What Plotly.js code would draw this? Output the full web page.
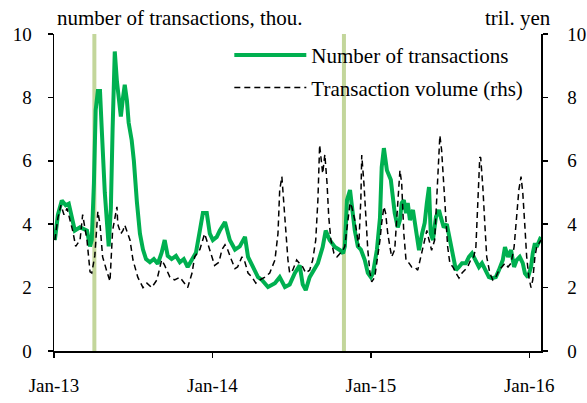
<!DOCTYPE html>
<html><head><meta charset="utf-8">
<script src="https://cdn.plot.ly/plotly-3.0.1.min.js"></script>
<style>html,body{margin:0;padding:0;background:#fff}#chart{width:587px;height:403px}</style>
</head><body><div id="chart"></div>
<script>
var countDates = ["2013-01-03","2013-01-10","2013-01-19","2013-01-28","2013-02-04","2013-02-11","2013-02-18","2013-03-02","2013-03-18","2013-03-25","2013-03-29","2013-04-03","2013-04-07","2013-04-12","2013-04-17","2013-04-21","2013-04-28","2013-05-07","2013-05-12","2013-05-16","2013-05-21","2013-05-26","2013-05-30","2013-06-04","2013-06-09","2013-06-13","2013-06-18","2013-06-22","2013-06-29","2013-07-04","2013-07-11","2013-07-18","2013-07-25","2013-08-01","2013-08-10","2013-08-19","2013-08-28","2013-09-06","2013-09-13","2013-09-20","2013-09-29","2013-10-09","2013-10-18","2013-10-27","2013-11-05","2013-11-15","2013-11-24","2013-12-03","2013-12-10","2013-12-19","2013-12-26","2014-01-02","2014-01-11","2014-01-18","2014-01-30","2014-02-10","2014-02-22","2014-03-05","2014-03-17","2014-03-24","2014-04-04","2014-04-16","2014-04-25","2014-05-09","2014-05-25","2014-06-05","2014-06-17","2014-06-28","2014-07-10","2014-07-21","2014-07-28","2014-08-04","2014-08-13","2014-08-20","2014-09-01","2014-09-12","2014-09-19","2014-09-28","2014-10-10","2014-10-22","2014-10-29","2014-11-02","2014-11-07","2014-11-14","2014-11-18","2014-11-25","2014-12-02","2014-12-09","2014-12-18","2014-12-25","2015-01-01","2015-01-06","2015-01-15","2015-01-22","2015-01-26","2015-01-31","2015-02-07","2015-02-16","2015-02-25","2015-03-04","2015-03-09","2015-03-13","2015-03-18","2015-03-23","2015-03-27","2015-04-01","2015-04-08","2015-04-15","2015-04-22","2015-04-29","2015-05-05","2015-05-10","2015-05-15","2015-05-19","2015-05-24","2015-05-31","2015-06-07","2015-06-11","2015-06-18","2015-06-25","2015-07-02","2015-07-09","2015-07-16","2015-07-23","2015-07-30","2015-08-08","2015-08-15","2015-08-22","2015-08-31","2015-09-07","2015-09-14","2015-09-23","2015-09-30","2015-10-07","2015-10-16","2015-10-23","2015-11-01","2015-11-06","2015-11-13","2015-11-20","2015-11-27","2015-12-03","2015-12-10","2015-12-17","2015-12-22","2015-12-29","2016-01-05","2016-01-09","2016-01-14","2016-01-18","2016-01-25","2016-01-28"];
var countValues = [3.5,4.3,4.75,4.6,4.65,4.2,3.8,3.9,3.8,3.3,3.5,5.3,7.6,8.2,8.2,7.0,5.0,3.3,4.5,7.0,9.45,8.5,8.0,7.4,8.0,8.4,7.9,7.2,6.65,6.0,4.7,3.7,3.2,2.9,2.8,2.9,2.75,3.1,3.5,3.0,2.9,3.0,2.8,2.9,2.65,2.9,3.1,3.8,4.35,4.35,3.7,3.5,3.6,3.8,4.07,3.5,3.2,3.3,3.6,2.97,2.65,2.33,2.24,2.02,2.14,2.33,2.02,2.1,2.46,2.7,2.1,1.92,2.33,2.5,2.77,3.28,3.8,3.5,3.28,3.18,3.08,3.3,4.76,5.08,4.55,3.8,3.3,3.2,2.87,2.46,2.33,2.46,3.2,4.2,5.8,6.4,5.7,5.4,4.35,3.9,4.13,4.67,4.76,4.35,4.67,4.13,4.45,3.7,3.18,3.7,4.04,4.67,5.17,3.7,3.5,4.23,4.45,4.23,3.9,4.0,3.5,3.08,2.55,2.65,2.77,2.77,2.97,3.08,2.87,2.65,2.77,2.55,2.33,2.3,2.33,2.55,2.87,3.28,2.97,3.18,2.65,2.87,2.97,2.77,2.45,2.33,2.65,3.08,3.4,3.28,3.5,3.6];

var volumeDates = ["2013-01-03","2013-01-10","2013-01-17","2013-01-24","2013-01-31","2013-02-06","2013-02-13","2013-02-20","2013-02-25","2013-03-02","2013-03-08","2013-03-18","2013-03-25","2013-03-29","2013-04-05","2013-04-12","2013-04-17","2013-04-23","2013-05-03","2013-05-10","2013-05-16","2013-05-26","2013-05-28","2013-06-04","2013-06-09","2013-06-13","2013-06-20","2013-06-25","2013-07-02","2013-07-13","2013-07-25","2013-08-03","2013-08-14","2013-08-26","2013-09-06","2013-09-13","2013-09-25","2013-10-06","2013-10-18","2013-10-29","2013-11-05","2013-11-15","2013-11-21","2013-12-03","2013-12-14","2013-12-21","2013-12-31","2014-01-06","2014-01-16","2014-01-23","2014-01-30","2014-02-05","2014-02-14","2014-02-22","2014-02-28","2014-03-10","2014-03-17","2014-03-24","2014-04-02","2014-04-11","2014-04-20","2014-05-02","2014-05-13","2014-05-25","2014-06-01","2014-06-05","2014-06-10","2014-06-14","2014-06-19","2014-06-24","2014-06-28","2014-07-05","2014-07-14","2014-07-21","2014-07-28","2014-08-04","2014-08-13","2014-08-20","2014-08-27","2014-09-01","2014-09-05","2014-09-12","2014-09-17","2014-09-22","2014-09-26","2014-10-01","2014-10-08","2014-10-15","2014-10-22","2014-10-29","2014-11-02","2014-11-07","2014-11-14","2014-11-18","2014-11-25","2014-11-30","2014-12-04","2014-12-09","2014-12-11","2014-12-16","2014-12-20","2014-12-25","2014-12-30","2015-01-03","2015-01-10","2015-01-17","2015-01-22","2015-01-26","2015-01-31","2015-02-04","2015-02-09","2015-02-14","2015-02-18","2015-02-25","2015-03-04","2015-03-09","2015-03-13","2015-03-18","2015-03-23","2015-03-30","2015-04-05","2015-04-12","2015-04-19","2015-04-26","2015-05-03","2015-05-10","2015-05-15","2015-05-21","2015-05-28","2015-06-02","2015-06-07","2015-06-09","2015-06-13","2015-06-18","2015-06-23","2015-06-27","2015-07-02","2015-07-09","2015-07-16","2015-07-23","2015-07-30","2015-08-05","2015-08-12","2015-08-19","2015-08-26","2015-08-31","2015-09-04","2015-09-09","2015-09-11","2015-09-16","2015-09-21","2015-09-25","2015-10-02","2015-10-09","2015-10-16","2015-10-23","2015-10-30","2015-11-06","2015-11-13","2015-11-20","2015-11-27","2015-12-03","2015-12-08","2015-12-13","2015-12-17","2015-12-22","2015-12-26","2015-12-31","2016-01-05","2016-01-09","2016-01-14","2016-01-18","2016-01-23","2016-01-28"];
var volumeValues = [3.5,4.2,4.6,4.3,4.5,4.2,3.8,3.3,3.4,3.5,4.3,3.5,2.5,2.46,3.0,4.4,4.0,2.97,2.5,2.2,3.8,4.55,4.0,3.7,3.8,3.97,3.7,3.5,2.87,2.33,2.0,2.14,2.0,2.24,2.87,2.7,2.33,2.24,2.33,2.14,2.0,2.46,2.97,3.2,3.7,3.4,2.97,2.7,2.8,3.2,3.35,3.2,2.87,2.6,2.65,2.97,2.8,2.46,2.33,2.14,2.24,2.33,2.46,2.87,3.7,5.08,5.5,4.76,3.7,2.87,2.46,2.55,2.87,2.77,2.65,2.46,2.55,2.87,3.5,4.76,6.5,5.6,6.2,5.3,4.23,3.5,3.08,2.97,3.08,3.18,3.3,3.9,4.67,4.55,4.13,3.7,3.28,4.8,6.18,5.3,4.23,3.18,2.46,2.18,2.33,2.97,3.5,4.04,4.55,4.35,3.7,3.28,2.97,3.2,4.76,5.7,5.3,3.7,2.87,2.77,2.65,2.65,2.55,2.97,3.4,3.8,3.5,3.18,3.5,4.76,6.0,6.8,6.34,5.3,4.23,3.28,2.77,2.65,2.46,2.3,2.46,2.55,2.65,2.87,2.97,3.28,4.76,6.12,6.1,5.17,3.9,2.97,2.46,2.24,2.33,2.55,2.65,2.77,2.65,2.77,3.28,4.23,5.08,5.5,5.0,3.9,2.97,2.33,2.0,2.24,2.97,3.28,3.4,3.5];

var eventDates = ["2013-04-04","2014-10-31"];
var xTickVals = ["2013-01-01","2014-01-01","2015-01-01","2016-01-01"];
var xTickText = ["Jan-13","Jan-14","Jan-15","Jan-16"];
var yTickVals = [0,2,4,6,8,10];
var seriesNames = ["Number of transactions","Transaction volume (rhs)"];
var leftUnit = "number of transactions, thou.";
var rightUnit = "tril. yen";

var FONT = "Liberation Serif, Times New Roman, serif";

var traces = [
  {x: countDates, y: countValues, name: seriesNames[0], type: "scatter", mode: "lines",
   line: {color: "#00b050", width: 4}, xaxis: "x", yaxis: "y", legendgroup: "a"},
  {x: volumeDates, y: volumeValues, name: seriesNames[1], type: "scatter", mode: "lines",
   line: {color: "#000000", width: 1.5, dash: "6px,4px"}, xaxis: "x", yaxis: "y2", legendgroup: "b"}
];

var shapes = eventDates.map(function(d){
  return {type: "line", xref: "x", yref: "y", x0: d, x1: d, y0: 0, y1: 10,
          line: {color: "#c3d69b", width: 4}, layer: "below"};
});

var axisCommon = {
  range: [0, 10], tickvals: yTickVals, ticks: "outside", ticklen: 5, tickwidth: 1.5,
  tickcolor: "#000", showline: true, linecolor: "#000", linewidth: 1.5, showgrid: false,
  zeroline: false, tickfont: {family: FONT, size: 19, color: "#000"}, ticklabelstandoff: 12
};

var layout = {
  width: 587, height: 403,
  margin: {l: 54, r: 46, t: 34, b: 52},
  paper_bgcolor: "#fff", plot_bgcolor: "#fff",
  font: {family: FONT, size: 19, color: "#000"},
  xaxis: {type: "date", range: ["2013-01-01", "2016-01-28"], tickvals: xTickVals, ticktext: xTickText,
          ticks: "outside", ticklen: 5, tickwidth: 1.5, tickcolor: "#000", showline: true,
          linecolor: "#000", linewidth: 1.5, showgrid: false, zeroline: false,
          tickfont: {family: FONT, size: 19, color: "#000"}, ticklabelstandoff: 12},
  yaxis: Object.assign({}, axisCommon, {side: "left"}),
  yaxis2: Object.assign({}, axisCommon, {side: "right", overlaying: "y", ticklabelstandoff: 16}),
  showlegend: true,
  legend: {x: 0.36, y: 0.997, xanchor: "left", yanchor: "top", bgcolor: "rgba(0,0,0,0)",
           font: {family: FONT, size: 21, color: "#000"}, traceorder: "grouped", tracegroupgap: 2,
           itemwidth: 72},
  shapes: shapes,
  annotations: [
    {text: leftUnit, xref: "paper", yref: "paper", x: 0.002, y: 1.05, xanchor: "left", yanchor: "middle",
     showarrow: false, font: {family: FONT, size: 21, color: "#000"}},
    {text: rightUnit, xref: "paper", yref: "paper", x: 1.025, y: 1.05, xanchor: "right", yanchor: "middle",
     showarrow: false, font: {family: FONT, size: 21, color: "#000"}}
  ]
};

Plotly.newPlot("chart", traces, layout, {displayModeBar: false, staticPlot: true});
</script>
</body></html>
